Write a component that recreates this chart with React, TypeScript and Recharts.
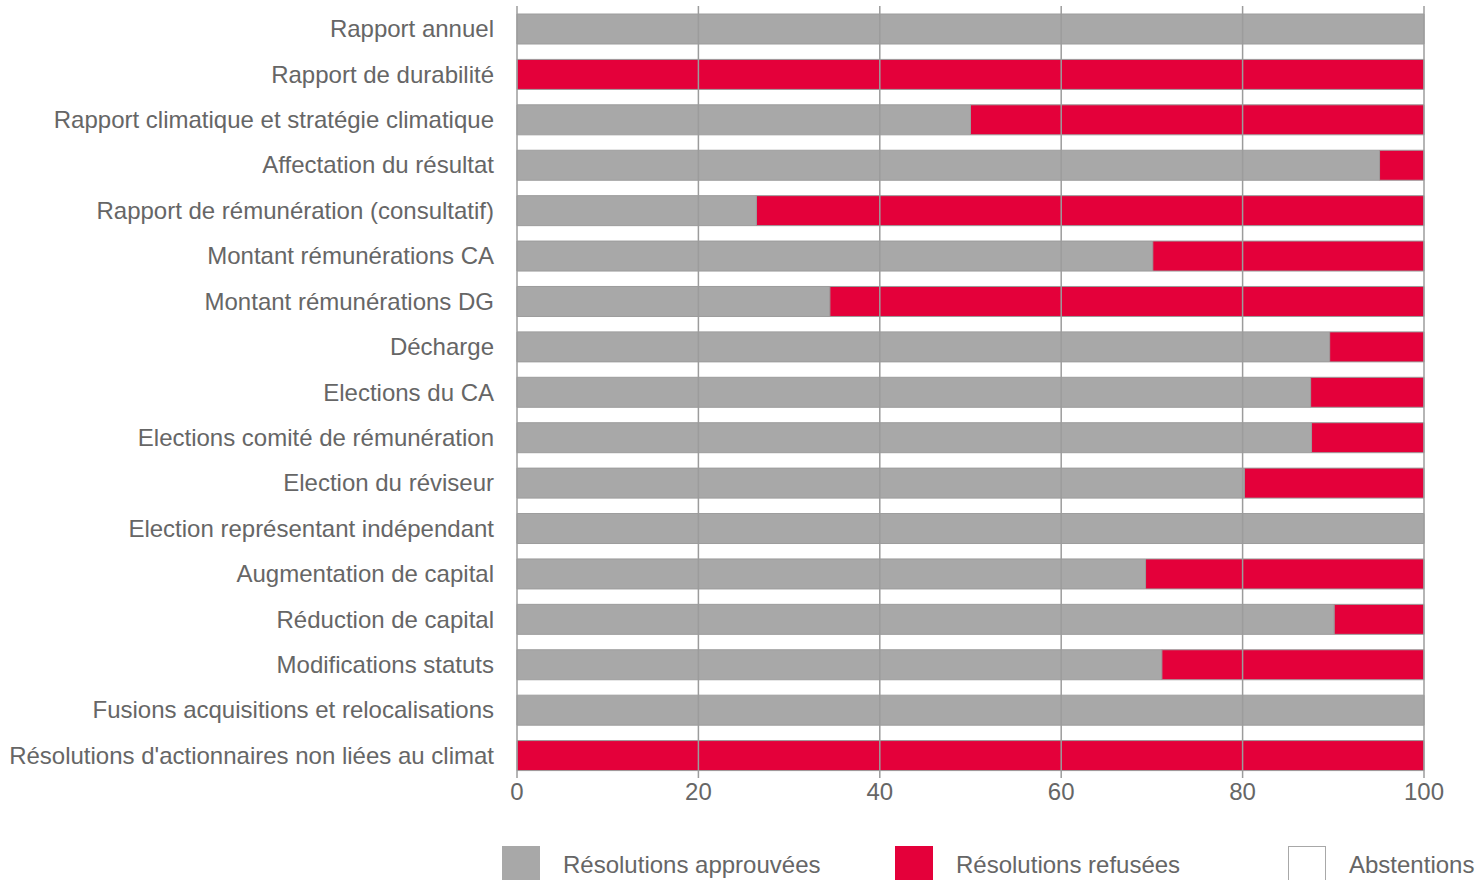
import {
  Bar,
  BarChart,
  Legend,
  ReferenceLine,
  XAxis,
  YAxis,
} from "recharts";

const categories = [
  "Rapport annuel",
  "Rapport de durabilité",
  "Rapport climatique et stratégie climatique",
  "Affectation du résultat",
  "Rapport de rémunération (consultatif)",
  "Montant rémunérations CA",
  "Montant rémunérations DG",
  "Décharge",
  "Elections du CA",
  "Elections comité de rémunération",
  "Election du réviseur",
  "Election représentant indépendant",
  "Augmentation de capital",
  "Réduction de capital",
  "Modifications statuts",
  "Fusions acquisitions et relocalisations",
  "Résolutions d'actionnaires non liées au climat",
];

const approved = [
  100, 0, 50, 95.1, 26.4, 70.1, 34.5, 89.6, 87.5, 87.6, 80.2, 100, 69.3, 90.1,
  71.1, 100, 0,
];

const refused = [
  0, 100, 50, 4.9, 73.6, 29.9, 65.5, 10.4, 12.5, 12.4, 19.8, 0, 30.7, 9.9,
  28.9, 0, 100,
];

const abstentions = [0, 0, 0, 0, 0, 0, 0, 0, 0, 0, 0, 0, 0, 0, 0, 0, 0];

const xTicks = [0, 20, 40, 60, 80, 100];

const data = categories.map((name, i) => ({
  name,
  approved: approved[i],
  refused: refused[i],
  abstentions: abstentions[i],
}));

const GRAY = "#a8a8a8";
const RED = "#e4003a";
const LINE = "#9c9c9c";
const TEXT = "#666666";
const FONT = "'Liberation Sans', Arial, sans-serif";

const legendItems = [
  { label: "Résolutions approuvées", fill: GRAY, border: GRAY },
  { label: "Résolutions refusées", fill: RED, border: RED },
  { label: "Abstentions", fill: "#ffffff", border: "#a8a8a8" },
];

function LegendContent() {
  return (
    <div style={{ position: "relative", width: 1479, height: 40 }}>
      {legendItems.map((item, i) => (
        <div
          key={item.label}
          style={{
            position: "absolute",
            left: 502 + i * 393,
            top: 0,
            display: "flex",
            alignItems: "center",
            whiteSpace: "nowrap",
          }}
        >
          <div
            style={{
              width: 38,
              height: 38,
              boxSizing: "border-box",
              background: item.fill,
              border: `1px solid ${item.border}`,
            }}
          />
          <span
            style={{
              marginLeft: 23,
              fontFamily: FONT,
              fontSize: 24,
              color: TEXT,
            }}
          >
            {item.label}
          </span>
        </div>
      ))}
    </div>
  );
}

export default function App() {
  return (
    <div style={{ position: "absolute", left: 0, top: 0 }}>
      <BarChart
        width={1479}
        height={880}
        data={data}
        layout="vertical"
        margin={{ top: 6, right: 55, bottom: 72, left: 0 }}
        barSize={30}
      >
        <XAxis
          type="number"
          domain={[0, 100]}
          ticks={xTicks}
          height={30}
          axisLine={false}
          tickLine={false}
          tickSize={0}
          tickMargin={5}
          tick={{ fontSize: 24, fill: TEXT, fontFamily: FONT }}
          interval={0}
        />
        <YAxis
          type="category"
          dataKey="name"
          width={517}
          axisLine={false}
          tickLine={false}
          tickSize={0}
          tickMargin={23}
          interval={0}
          tick={{ fontSize: 24, fill: TEXT, fontFamily: FONT }}
        />
        <Bar
          dataKey="approved"
          name="Résolutions approuvées"
          stackId="a"
          fill={GRAY}
          stroke={LINE}
          strokeWidth={1}
          isAnimationActive={false}
        />
        <Bar
          dataKey="refused"
          name="Résolutions refusées"
          stackId="a"
          fill={RED}
          stroke={LINE}
          strokeWidth={1}
          isAnimationActive={false}
        />
        <Bar
          dataKey="abstentions"
          name="Abstentions"
          stackId="a"
          fill="#ffffff"
          stroke={LINE}
          strokeWidth={1}
          isAnimationActive={false}
        />
        {xTicks.map((t) => (
          <ReferenceLine key={t} x={t} stroke={LINE} strokeWidth={1.5} />
        ))}
        <Legend
          layout="horizontal"
          align="center"
          verticalAlign="middle"
          wrapperStyle={{ left: 0, top: 846, width: 1479 }}
          content={() => <LegendContent />}
        />
      </BarChart>
    </div>
  );
}
